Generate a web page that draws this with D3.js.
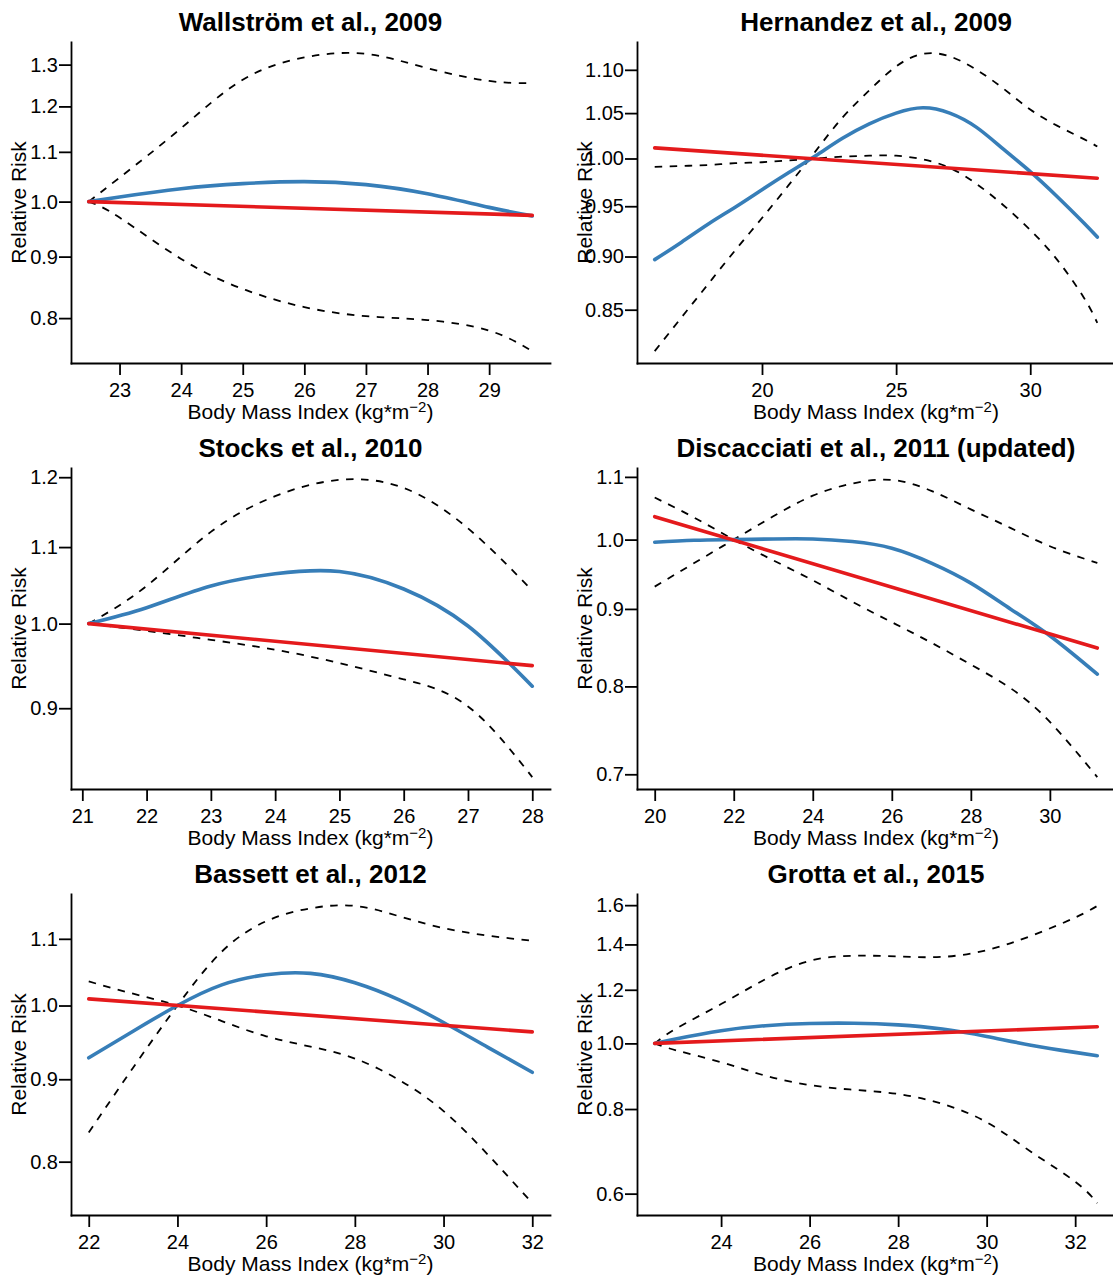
<!DOCTYPE html>
<html>
<head>
<meta charset="utf-8">
<script src="https://cdn.jsdelivr.net/npm/d3@7"></script>
<style>
  html, body { margin: 0; padding: 0; background: #fff; }
  text { font-family: "Liberation Sans", Arial, Helvetica, sans-serif; }
</style>
</head>
<body>
<svg id="chart" width="1113" height="1279"></svg>
<script>
// ---------- data ----------
const titles = [
  "Wallström et al., 2009",
  "Hernandez et al., 2009",
  "Stocks et al., 2010",
  "Discacciati et al., 2011 (updated)",
  "Bassett et al., 2012",
  "Grotta et al., 2015"
];

// Panel 1 – Wallström 2009
const bmi1    = [22.5, 23, 24, 25, 26, 27, 28, 29, 29.7];
const upper1  = [1.0, 1.047, 1.151, 1.263, 1.318, 1.327, 1.291, 1.260, 1.255];
const lower1  = [1.0, 0.970, 0.896, 0.846, 0.817, 0.803, 0.797, 0.781, 0.751];
const spline1 = [1.0, 1.009, 1.025, 1.035, 1.039, 1.033, 1.015, 0.989, 0.973];
const linBmi1 = [22.5, 29.7];
const linear1 = [1.0, 0.974];
const xTicks1 = ["23", "24", "25", "26", "27", "28", "29"];
const yTicks1 = ["0.8", "0.9", "1.0", "1.1", "1.2", "1.3"];

// Panel 2 – Hernandez 2009
const bmi2    = [16, 17, 18, 19, 20, 21, 22, 23, 24, 25, 26, 27, 28, 29, 30, 31, 32, 32.5];
const upper2  = [0.813, 0.843, 0.874, 0.906, 0.938, 0.972, 1.008, 1.045, 1.076, 1.104, 1.119, 1.116, 1.100, 1.078, 1.054, 1.036, 1.021, 1.013];
const lower2  = [0.991, 0.992, 0.993, 0.995, 0.996, 0.998, 1.0, 1.002, 1.003, 1.003, 0.999, 0.990, 0.973, 0.951, 0.926, 0.897, 0.861, 0.838];
const spline2 = [0.897, 0.914, 0.932, 0.949, 0.967, 0.985, 1.003, 1.022, 1.038, 1.050, 1.056, 1.050, 1.034, 1.010, 0.986, 0.960, 0.933, 0.919];
const linBmi2 = [16, 32.5];
const linear2 = [1.0115, 0.979];
const xTicks2 = ["20", "25", "30"];
const yTicks2 = ["0.85", "0.90", "0.95", "1.00", "1.05", "1.10"];

// Panel 3 – Stocks 2010
const bmi3    = [21.1, 22, 23, 24, 25, 26, 27, 28];
const upper3  = [1.0, 1.048, 1.121, 1.172, 1.196, 1.184, 1.126, 1.042];
const lower3  = [1.0, 0.991, 0.980, 0.968, 0.952, 0.933, 0.902, 0.826];
const spline3 = [1.0, 1.020, 1.048, 1.064, 1.067, 1.044, 0.997, 0.925];
const linBmi3 = [21.1, 28];
const linear3 = [1.0, 0.949];
const xTicks3 = ["21", "22", "23", "24", "25", "26", "27", "28"];
const yTicks3 = ["0.9", "1.0", "1.1", "1.2"];

// Panel 4 – Discacciati 2011 (updated)
const bmi4    = [20, 21, 22, 23, 24, 25, 26, 27, 28, 29, 30, 31.2];
const upper4  = [0.931, 0.965, 1.0, 1.036, 1.069, 1.089, 1.095, 1.077, 1.047, 1.018, 0.990, 0.965];
const lower4  = [1.066, 1.034, 1.0, 0.969, 0.940, 0.910, 0.882, 0.855, 0.827, 0.798, 0.758, 0.697];
const spline4 = [0.996, 0.999, 1.0, 1.001, 1.001, 0.997, 0.987, 0.965, 0.936, 0.900, 0.864, 0.815];
const linBmi4 = [20, 31.2];
const linear4 = [1.0355, 0.848];
const xTicks4 = ["20", "22", "24", "26", "28", "30"];
const yTicks4 = ["0.7", "0.8", "0.9", "1.0", "1.1"];

// Panel 5 – Bassett 2012
const bmi5    = [22, 23, 24, 25, 26, 27, 28, 29, 30, 31, 32];
const upper5  = [0.834, 0.915, 1.0, 1.080, 1.128, 1.149, 1.153, 1.136, 1.117, 1.105, 1.097];
const lower5  = [1.035, 1.017, 1.0, 0.978, 0.957, 0.943, 0.927, 0.899, 0.860, 0.808, 0.754];
const spline5 = [0.928, 0.964, 1.0, 1.030, 1.045, 1.047, 1.033, 1.008, 0.976, 0.942, 0.909];
const linBmi5 = [22, 32];
const linear5 = [1.0096, 0.963];
const xTicks5 = ["22", "24", "26", "28", "30", "32"];
const yTicks5 = ["0.8", "0.9", "1.0", "1.1"];

// Panel 6 – Grotta 2015
const bmi6    = [22.5, 23, 24, 25, 26, 27, 28, 29, 30, 31, 32, 32.5];
const upper6  = [1.0, 1.053, 1.143, 1.244, 1.324, 1.347, 1.344, 1.342, 1.373, 1.441, 1.534, 1.596];
const lower6  = [1.0, 0.976, 0.938, 0.896, 0.868, 0.854, 0.842, 0.814, 0.765, 0.692, 0.625, 0.581];
const spline6 = [1.0, 1.016, 1.044, 1.062, 1.070, 1.071, 1.065, 1.050, 1.024, 0.994, 0.970, 0.959];
const linBmi6 = [22.5, 32.5];
const linear6 = [1.0, 1.058];
const xTicks6 = ["24", "26", "28", "30", "32"];
const yTicks6 = ["0.6", "0.8", "1.0", "1.2", "1.4", "1.6"];

const bmis    = [bmi1, bmi2, bmi3, bmi4, bmi5, bmi6];
const uppers  = [upper1, upper2, upper3, upper4, upper5, upper6];
const lowers  = [lower1, lower2, lower3, lower4, lower5, lower6];
const splines = [spline1, spline2, spline3, spline4, spline5, spline6];
const linBmis = [linBmi1, linBmi2, linBmi3, linBmi4, linBmi5, linBmi6];
const linears = [linear1, linear2, linear3, linear4, linear5, linear6];
const xTicks  = [xTicks1, xTicks2, xTicks3, xTicks4, xTicks5, xTicks6];
const yTicks  = [yTicks1, yTicks2, yTicks3, yTicks4, yTicks5, yTicks6];

// ---------- layout ----------
const colL = [71, 637], colR = [550, 1115];
const rowT = [42, 468, 894], rowB = [363, 789, 1215];
const BLUE = "#377EB8", RED = "#E41A1C";

const svg = d3.select("#chart");
svg.append("rect").attr("width", 1113).attr("height", 1279).attr("fill", "#fff");

function pad(ext, f) { const d = ext[1] - ext[0]; return [ext[0] - d * f, ext[1] + d * f]; }

for (let i = 0; i < 6; i++) {
  const col = i % 2, row = Math.floor(i / 2);
  const L = colL[col], R = colR[col], T = rowT[row], B = rowB[row];

  const xs = bmis[i].concat(linBmis[i]);
  const xDom = pad(d3.extent(xs), 0.04);
  const x = d3.scaleLinear().domain(xDom).range([L, R]);

  const allY = uppers[i].concat(lowers[i], splines[i], linears[i]).map(Math.log);
  const lyDom = pad(d3.extent(allY), 0.04);
  const y = d3.scaleLog().domain([Math.exp(lyDom[0]), Math.exp(lyDom[1])]).range([B, T]);

  const g = svg.append("g");

  const smooth = d3.line().x(d => x(d[0])).y(d => y(d[1])).curve(d3.curveNatural);
  const straight = d3.line().x(d => x(d[0])).y(d => y(d[1]));

  const up = bmis[i].map((b, j) => [b, uppers[i][j]]);
  const lo = bmis[i].map((b, j) => [b, lowers[i][j]]);
  const sp = bmis[i].map((b, j) => [b, splines[i][j]]);
  const ln = linBmis[i].map((b, j) => [b, linears[i][j]]);

  [up, lo].forEach(d => {
    g.append("path").attr("d", smooth(d)).attr("fill", "none")
      .attr("stroke", "#000").attr("stroke-width", 1.8)
      .attr("stroke-dasharray", "7.5,7.5");
  });
  g.append("path").attr("d", smooth(sp)).attr("fill", "none")
    .attr("stroke", BLUE).attr("stroke-width", 3.6).attr("stroke-linecap", "round");
  g.append("path").attr("d", straight(ln)).attr("fill", "none")
    .attr("stroke", RED).attr("stroke-width", 3.6).attr("stroke-linecap", "round");

  // axes
  const yt = yTicks[i];
  const yAxis = d3.axisLeft(y).tickValues(yt.map(Number))
    .tickFormat((d, j) => yt[j]).tickSize(12).tickSizeOuter(0).tickPadding(1);
  const ya = g.append("g").attr("transform", `translate(${L},0)`).call(yAxis);

  const xt = xTicks[i];
  const xAxis = d3.axisBottom(x).tickValues(xt.map(Number))
    .tickFormat((d, j) => xt[j]).tickSize(12).tickSizeOuter(0).tickPadding(8);
  const xa = g.append("g").attr("transform", `translate(0,${B})`).call(xAxis);

  [ya, xa].forEach(a => {
    a.attr("font-family", null).attr("font-size", null);
    a.select(".domain").attr("stroke", "#000").attr("stroke-width", 1.8).attr("stroke-linecap", "square");
    a.selectAll(".tick line").attr("stroke", "#000").attr("stroke-width", 1.8);
    a.selectAll(".tick text").attr("fill", "#000").style("font-size", "20px")
      .style("font-family", '"Liberation Sans", Arial, Helvetica, sans-serif');
  });

  // title
  g.append("text").attr("x", (L + R) / 2).attr("y", T - 11)
    .attr("text-anchor", "middle").style("font-size", "26px").style("font-weight", "bold")
    .text(titles[i]);

  // x-axis title
  const xl = g.append("text").attr("x", (L + R) / 2).attr("y", B + 56)
    .attr("text-anchor", "middle").style("font-size", "21px");
  xl.append("tspan").text("Body Mass Index (kg*m");
  xl.append("tspan").attr("dy", -7).style("font-size", "15px").text("\u22122");
  xl.append("tspan").attr("dy", 7).text(")");

  // y-axis title
  g.append("text")
    .attr("transform", `translate(${L - 45},${(T + B) / 2}) rotate(-90)`)
    .attr("text-anchor", "middle").style("font-size", "21px")
    .text("Relative Risk");
}
</script>
</body>
</html>
